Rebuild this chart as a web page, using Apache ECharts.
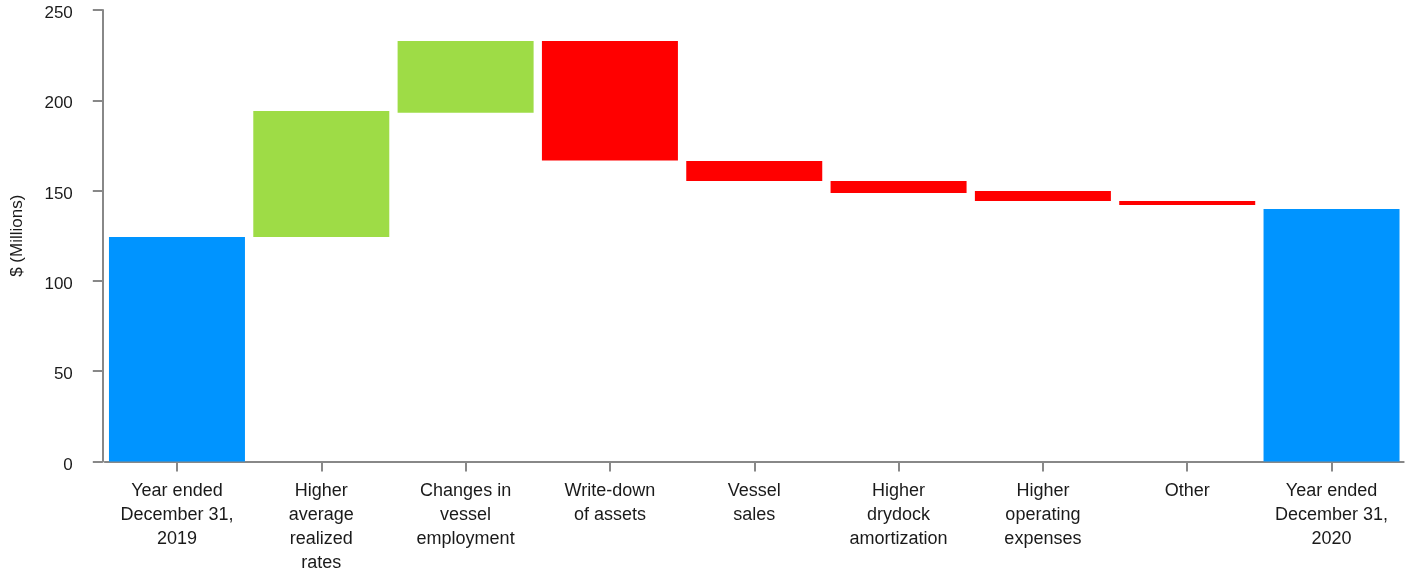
<!DOCTYPE html>
<html>
<head>
<meta charset="utf-8">
<script src="https://cdn.jsdelivr.net/npm/echarts@6/dist/echarts.min.js"></script>
<style>
html,body{margin:0;padding:0;background:#fff;overflow:hidden;}
#chart{width:1409px;height:571px;}
</style>
</head>
<body>
<div id="chart"></div>
<script>
const categories = [
  "Year ended\nDecember 31,\n2019",
  "Higher\naverage\nrealized\nrates",
  "Changes in\nvessel\nemployment",
  "Write-down\nof assets",
  "Vessel\nsales",
  "Higher\ndrydock\namortization",
  "Higher\noperating\nexpenses",
  "Other",
  "Year ended\nDecember 31,\n2020"
];
const barBottoms = [0, 124.3, 193.1, 166.6, 155.3, 148.7, 144.3, 142.0, 0];
const barTops    = [124.3, 194.1, 232.8, 232.8, 166.4, 155.3, 149.8, 144.3, 139.8];
const barKinds   = ["total", "increase", "increase", "decrease", "decrease", "decrease", "decrease", "decrease", "total"];
const yTicks = [0, 50, 100, 150, 200, 250];

const kindColors = { total: "#0094ff", increase: "#9edc46", decrease: "#ff0000" };

const chart = echarts.init(document.getElementById('chart'), null, { renderer: 'canvas', width: 1409, height: 571 });
const axisColor = "#888888";
chart.setOption({
  animation: false,
  backgroundColor: "#ffffff",
  grid: { left: 104.8, right: 5.3, top: 10, bottom: 109.5, containLabel: false, outerBoundsMode: 'none' },
  xAxis: {
    type: 'category',
    data: categories,
    axisLine: { show: true, lineStyle: { color: axisColor, width: 2 } },
    axisTick: { show: true, alignWithLabel: true, length: 10, lineStyle: { color: axisColor, width: 2 } },
    axisLabel: {
      interval: 0, margin: 18, color: "#1a1a1a",
      fontFamily: "Liberation Sans, Arial, sans-serif", fontSize: 18, lineHeight: 24
    },
    splitLine: { show: false }
  },
  yAxis: {
    type: 'value',
    min: yTicks[0], max: yTicks[yTicks.length - 1], interval: 50,
    offset: 2,
    name: "$ (Millions)",
    nameLocation: 'middle',
    nameGap: 77,
    nameTextStyle: { color: "#1a1a1a", fontFamily: "Liberation Sans, Arial, sans-serif", fontSize: 17 },
    axisLine: { show: true, lineStyle: { color: axisColor, width: 2 } },
    axisTick: { show: true, length: 10, lineStyle: { color: axisColor, width: 2 } },
    axisLabel: {
      margin: 30, color: "#1a1a1a",
      fontFamily: "Liberation Sans, Arial, sans-serif", fontSize: 17,
      verticalAlign: 'top', lineHeight: 7
    },
    splitLine: { show: false }
  },
  series: [
    {
      type: 'bar', stack: 'wf', silent: true,
      barWidth: 136,
      itemStyle: { color: 'transparent' },
      data: barBottoms
    },
    {
      type: 'bar', stack: 'wf',
      barWidth: 136,
      data: barTops.map((t, i) => ({
        value: +(t - barBottoms[i]).toFixed(2),
        itemStyle: { color: kindColors[barKinds[i]] }
      }))
    }
  ]
});
</script>
</body>
</html>
